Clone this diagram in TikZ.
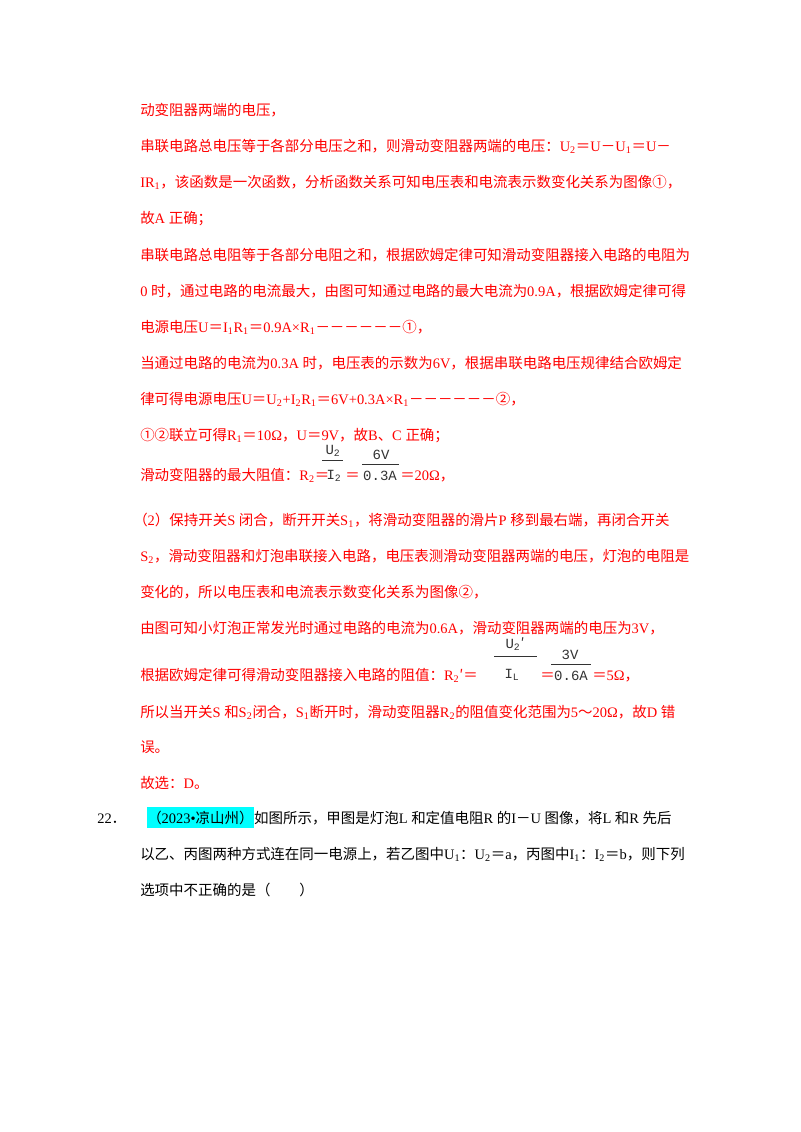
\documentclass[tikz,border=0pt]{standalone}
\usepackage{fontspec}
\setmainfont{Liberation Serif}
\newfontfamily\cjk{Noto Sans CJK SC}
\newfontfamily\fmono{Liberation Mono}
\XeTeXinterchartokenstate=1
\newXeTeXintercharclass\cjkcls
\count255="4E00
\loop\ifnum\count255<"A000 \XeTeXcharclass\count255=\cjkcls \advance\count255 by 1 \repeat
\count255="3000
\loop\ifnum\count255<"3040 \XeTeXcharclass\count255=\cjkcls \advance\count255 by 1 \repeat
\count255="FF00
\loop\ifnum\count255<"FFF0 \XeTeXcharclass\count255=\cjkcls \advance\count255 by 1 \repeat
\count255="2460
\loop\ifnum\count255<"2474 \XeTeXcharclass\count255=\cjkcls \advance\count255 by 1 \repeat
\XeTeXcharclass"2032=\cjkcls
\XeTeXinterchartoks 0 \cjkcls = {\cjk}
\XeTeXinterchartoks 4095 \cjkcls = {\cjk}
\XeTeXinterchartoks \cjkcls 0 = {\rmfamily}
\XeTeXinterchartoks \cjkcls 4095 = {\rmfamily}
\newcommand{\subs}[1]{\textsubscript{#1}}
\definecolor{ansred}{RGB}{255,0,0}
\definecolor{hl}{RGB}{0,255,255}
\begin{document}
\begin{tikzpicture}[x=0.75pt,y=-0.75pt,
  ln/.style={anchor=base west,inner sep=0pt,font=\fontsize{10.85}{13}\selectfont},
  red/.style={text=ansred},
  fr/.style={anchor=base,inner sep=0pt,font=\fmono\fontsize{10.5}{12}\selectfont,text=black!80}]
\useasboundingbox[fill=white] (0,0) rectangle (800,1132);
\node[ln,red] (l1) at (140,115) {动变阻器两端的电压，};
\node[ln,red] (l2) at (140,151) {串联电路总电压等于各部分电压之和，则滑动变阻器两端的电压：U\subs{2}＝U－U\subs{1}＝U－};
\node[ln,red] (l3) at (140,187) {IR\subs{1}，该函数是一次函数，分析函数关系可知电压表和电流表示数变化关系为图像①，};
\node[ln,red] (l4) at (140,223) {故A 正确；};
\node[ln,red] (l5) at (140,260) {串联电路总电阻等于各部分电阻之和，根据欧姆定律可知滑动变阻器接入电路的电阻为};
\node[ln,red] (l6) at (140,296) {0 时，通过电路的电流最大，由图可知通过电路的最大电流为0.9A，根据欧姆定律可得};
\node[ln,red] (l7) at (140,332) {电源电压U＝I\subs{1}R\subs{1}＝0.9A×R\subs{1}－－－－－－①，};
\node[ln,red] (l8) at (140,368) {当通过电路的电流为0.3A 时，电压表的示数为6V，根据串联电路电压规律结合欧姆定};
\node[ln,red] (l9) at (140,404) {律可得电源电压U＝U\subs{2}+I\subs{2}R\subs{1}＝6V+0.3A×R\subs{1}－－－－－－②，};
\node[ln,red] (l10) at (140,440) {①②联立可得R\subs{1}＝10Ω，U＝9V，故B、C 正确；};
\node[ln,red] (l11) at (140,480) {滑动变阻器的最大阻值：R\subs{2}＝};
\node[fr] (u2) at (333,454) {U\subs{2}};
\draw[black!80,line width=0.7pt] (322,460) -- (343,460);
\node[fr] (i2) at (334,479) {I\subs{2}};
\node[ln,red] (eq1) at (345,480) {＝};
\node[fr] (v6) at (381,459) {6V};
\draw[black!80,line width=0.7pt] (362,464) -- (399,464);
\node[fr] (a03) at (380,480) {0.3A};
\node[ln,red] (r20) at (400,480) {＝20Ω，};
\node[ln,red] (l12) at (133,525) {（2）保持开关S 闭合，断开开关S\subs{1}，将滑动变阻器的滑片P 移到最右端，再闭合开关};
\node[ln,red] (l13) at (140,561) {S\subs{2}，滑动变阻器和灯泡串联接入电路，电压表测滑动变阻器两端的电压，灯泡的电阻是};
\node[ln,red] (l14) at (140,597) {变化的，所以电压表和电流表示数变化关系为图像②，};
\node[ln,red] (l15) at (140,633) {由图可知小灯泡正常发光时通过电路的电流为0.6A，滑动变阻器两端的电压为3V，};
\node[ln,red] (l16) at (140,680) {根据欧姆定律可得滑动变阻器接入电路的阻值：R\subs{2}′＝};
\node[fr] (u2p) at (515,648) {U\subs{2}′};
\draw[black!80,line width=0.7pt] (494,656) -- (537,656);
\node[fr] (il) at (512,678) {I\subs{L}};
\node[ln,red] (eq2) at (540,680) {＝};
\node[fr] (v3) at (570,659) {3V};
\draw[black!80,line width=0.7pt] (551,664) -- (591,664);
\node[fr] (a06) at (571,680) {0.6A};
\node[ln,red] (r5) at (592,680) {＝5Ω，};
\node[ln,red] (l17) at (140,717) {所以当开关S 和S\subs{2}闭合，S\subs{1}断开时，滑动变阻器R\subs{2}的阻值变化范围为5～20Ω，故D 错};
\node[ln,red] (l18) at (140,752) {误。};
\node[ln,red] (l19) at (140,788) {故选：D。};
\node[ln] (n22) at (97,823) {22．};
\node[ln,fill=hl,inner ysep=3pt,anchor=base west] (src) at (147,823) {（2023•凉山州）};
\node[ln] (n22b) at (src.base east) {如图所示，甲图是灯泡L 和定值电阻R 的I－U 图像，将L 和R 先后};
\node[ln] (l21) at (140,859) {以乙、丙图两种方式连在同一电源上，若乙图中U\subs{1}：U\subs{2}＝a，丙图中I\subs{1}：I\subs{2}＝b，则下列};
\node[ln] (l22) at (140,895) {选项中不正确的是（\quad\quad）};
\end{tikzpicture}
\end{document}
